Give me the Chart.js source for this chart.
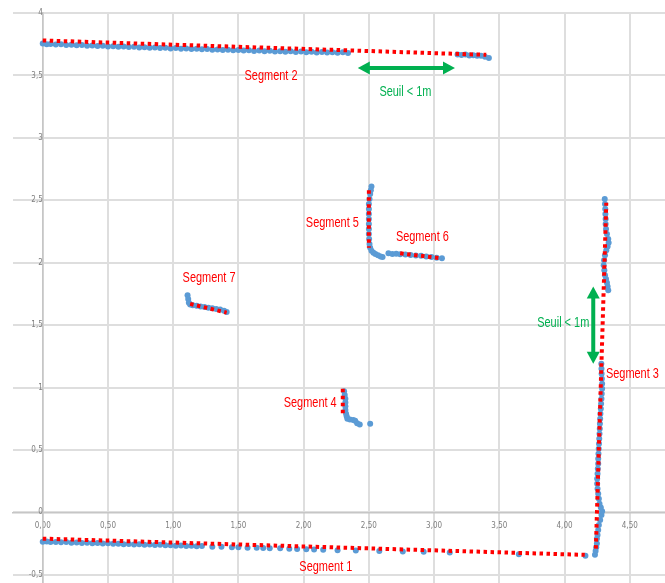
<!DOCTYPE html>
<html>
<head>
<meta charset="utf-8">
<script src="https://cdn.jsdelivr.net/npm/chart.js@4/dist/chart.umd.min.js"></script>
<style>
  html, body { margin: 0; padding: 0; background: #ffffff; overflow: hidden; }
  #wrap { width: 665px; height: 583px; overflow: hidden; }
</style>
</head>
<body>
<div id="wrap"><canvas id="scan" width="669" height="594"></canvas></div>
<script>
// Lidar scan points (x, y in metres), one list per wall piece
const scanSeg1 = [
  [0.00,-0.235],[0.03,-0.233],[0.06,-0.238],[0.10,-0.236],[0.14,-0.240],[0.18,-0.238],
  [0.22,-0.243],[0.26,-0.241],[0.30,-0.245],[0.34,-0.243],[0.38,-0.248],[0.42,-0.246],
  [0.46,-0.250],[0.50,-0.248],[0.54,-0.252],[0.58,-0.251],[0.62,-0.255],[0.66,-0.253],
  [0.70,-0.257],[0.74,-0.256],[0.78,-0.259],[0.82,-0.258],[0.86,-0.262],[0.90,-0.260],
  [0.94,-0.264],[0.98,-0.263],[1.02,-0.267],[1.06,-0.265],[1.10,-0.269],[1.14,-0.268],
  [1.18,-0.272],[1.22,-0.270],[1.30,-0.276],[1.37,-0.275],[1.45,-0.280],[1.50,-0.279],
  [1.57,-0.283],[1.64,-0.284],[1.69,-0.286],[1.74,-0.288],[1.82,-0.287],[1.89,-0.292],
  [1.95,-0.293],[2.02,-0.296],[2.08,-0.297],[2.15,-0.300],[2.26,-0.303],[2.40,-0.305],
  [2.58,-0.310],[2.76,-0.313],[2.92,-0.316],[3.12,-0.322],[3.65,-0.335],[4.16,-0.348]
];
const scanSeg2a = [
  [0.00,3.755],[0.03,3.750],[0.06,3.752],[0.10,3.748],[0.14,3.749],[0.18,3.744],[0.22,3.746],
  [0.26,3.741],[0.30,3.743],[0.34,3.738],[0.38,3.740],[0.42,3.735],[0.46,3.737],[0.50,3.732],
  [0.54,3.734],[0.58,3.729],[0.62,3.731],[0.66,3.727],[0.70,3.729],[0.74,3.724],[0.78,3.726],
  [0.82,3.722],[0.86,3.724],[0.90,3.719],[0.94,3.721],[0.98,3.716],[1.02,3.719],[1.06,3.714],
  [1.10,3.716],[1.14,3.711],[1.18,3.713],[1.22,3.709],[1.26,3.711],[1.30,3.706],[1.34,3.708],
  [1.38,3.703],[1.42,3.706],[1.46,3.701],[1.50,3.703],[1.54,3.699],[1.58,3.701],[1.62,3.696],
  [1.66,3.699],[1.70,3.694],[1.74,3.697],[1.78,3.692],[1.82,3.694],[1.86,3.690],[1.90,3.693],
  [1.94,3.688],[1.98,3.691],[2.02,3.686],[2.06,3.689],[2.10,3.684],[2.14,3.688],[2.18,3.683],
  [2.22,3.686],[2.26,3.682],[2.30,3.685],[2.34,3.680]
];
const scanSeg2b = [
  [3.18,3.668],[3.21,3.664],[3.24,3.667],[3.27,3.660],[3.30,3.662],[3.33,3.657],
  [3.36,3.658],[3.39,3.650],[3.42,3.640]
];
const scanSeg3a = [
  [4.233,-0.34],[4.238,-0.31],[4.243,-0.28],[4.248,-0.25],[4.248,-0.21],[4.253,-0.18],
  [4.258,-0.14],[4.263,-0.10],[4.273,-0.06],[4.283,-0.02],[4.288,0.01],[4.278,0.04],
  [4.268,0.07],[4.263,0.11],[4.258,0.15],[4.253,0.19],[4.250,0.23],[4.250,0.27],
  [4.253,0.31],[4.255,0.35],[4.258,0.39],[4.258,0.43],[4.260,0.47],[4.262,0.51],
  [4.264,0.55],[4.266,0.59],[4.268,0.63],[4.270,0.67],[4.271,0.71],[4.273,0.75],
  [4.275,0.79],[4.278,0.83],[4.280,0.87],[4.283,0.91],[4.285,0.95],[4.288,0.99],
  [4.288,1.03],[4.286,1.07],[4.284,1.11],[4.283,1.15],[4.282,1.19]
];
const scanSeg3b = [
  [4.335,1.78],[4.330,1.81],[4.325,1.84],[4.318,1.87],[4.310,1.90],[4.305,1.94],
  [4.300,1.98],[4.303,2.02],[4.310,2.06],[4.320,2.10],[4.330,2.13],[4.338,2.16],
  [4.335,2.19],[4.325,2.23],[4.318,2.27],[4.315,2.31],[4.315,2.35],[4.313,2.39],
  [4.312,2.43],[4.310,2.47],[4.308,2.51]
];
const scanSeg4 = [
  [2.31,0.97],[2.315,0.94],[2.32,0.91],[2.32,0.88],[2.32,0.85],[2.32,0.82],[2.325,0.79],
  [2.33,0.77],[2.335,0.75],[2.355,0.745],[2.38,0.74],[2.395,0.735],[2.41,0.715],
  [2.43,0.705],[2.51,0.71]
];
const scanSeg5 = [
  [2.52,2.61],[2.515,2.58],[2.51,2.55],[2.505,2.51],[2.50,2.47],[2.50,2.43],[2.50,2.39],
  [2.50,2.35],[2.50,2.31],[2.50,2.27],[2.50,2.23],[2.502,2.19],[2.505,2.15],[2.51,2.12],
  [2.52,2.095],[2.535,2.08],[2.55,2.07],[2.57,2.06],[2.59,2.05],[2.605,2.045]
];
const scanSeg6 = [
  [2.65,2.075],[2.68,2.07],[2.71,2.072],[2.74,2.068],[2.78,2.066],[2.82,2.062],
  [2.86,2.058],[2.90,2.055],[2.94,2.05],[2.98,2.046],[3.02,2.04],[3.06,2.035]
];
const scanSeg7 = [
  [1.11,1.74],[1.115,1.71],[1.12,1.68],[1.13,1.665],[1.15,1.66],[1.18,1.655],[1.21,1.65],
  [1.24,1.645],[1.27,1.64],[1.30,1.635],[1.33,1.63],[1.36,1.625],[1.39,1.615],[1.41,1.605]
];

// Fitted segments: start and end points
const segment1 = [[0.00,-0.21],[4.155,-0.34]];
const segment2 = [[0.00,3.78],[3.40,3.665]];
const segment3 = [[4.24,-0.29],[4.32,2.48]];
const segment4 = [[2.30,0.99],[2.30,0.79]];
const segment5 = [[2.50,2.58],[2.50,2.12]];
const segment6 = [[2.74,2.075],[3.06,2.035]];
const segment7 = [[1.13,1.67],[1.41,1.60]];

// Gap threshold arrows (end points in metres)
const gapArrowTop = [[2.415,3.56],[3.16,3.56]];
const gapArrowRight = [[4.22,1.81],[4.22,1.19]];

// Text notes placed in data space
const notes = [
  { text: 'Segment 1', at: [2.17,-0.44], color: '#ff0000' },
  { text: 'Segment 2', at: [1.75,3.50], color: '#ff0000' },
  { text: 'Segment 3', at: [4.52,1.11], color: '#ff0000' },
  { text: 'Segment 4', at: [2.05,0.88], color: '#ff0000' },
  { text: 'Segment 5', at: [2.22,2.32], color: '#ff0000' },
  { text: 'Segment 6', at: [2.91,2.21], color: '#ff0000' },
  { text: 'Segment 7', at: [1.275,1.88], color: '#ff0000' },
  { text: 'Seuil < 1m', at: [2.78,3.37], color: '#00b050' },
  { text: 'Seuil < 1m', at: [3.99,1.52], color: '#00b050' }
];

const toXY = arr => arr.map(p => ({ x: p[0], y: p[1] }));
const TICK_FONT = '"Liberation Sans Narrow", "DejaVu Sans Condensed", sans-serif';
const NOTE_FONT = '"Liberation Sans", Arial, sans-serif';

const scanPoints = [].concat(scanSeg1, scanSeg2a, scanSeg2b, scanSeg3a, scanSeg3b,
                             scanSeg4, scanSeg5, scanSeg6, scanSeg7);
const segments = [segment1, segment2, segment3, segment4, segment5, segment6, segment7];

const segmentSets = segments.map(s => ({
  type: 'line',
  data: toXY(s),
  borderColor: '#ff0000',
  borderWidth: 4,
  borderDash: [3.5, 3.5],
  borderCapStyle: 'butt',
  pointRadius: 0,
  fill: false,
  order: 0
}));

function drawArrow(ctx, x1, y1, x2, y2, color) {
  const ang = Math.atan2(y2 - y1, x2 - x1);
  const head = 12, half = 6.5;
  const ux = Math.cos(ang), uy = Math.sin(ang);
  ctx.save();
  ctx.strokeStyle = color;
  ctx.fillStyle = color;
  ctx.lineWidth = 4;
  ctx.beginPath();
  ctx.moveTo(x1 + ux * head * 0.8, y1 + uy * head * 0.8);
  ctx.lineTo(x2 - ux * head * 0.8, y2 - uy * head * 0.8);
  ctx.stroke();
  const tip = (tx, ty, dx, dy) => {
    ctx.beginPath();
    ctx.moveTo(tx, ty);
    ctx.lineTo(tx - dx * head - dy * half, ty - dy * head + dx * half);
    ctx.lineTo(tx - dx * head + dy * half, ty - dy * head - dx * half);
    ctx.closePath();
    ctx.fill();
  };
  tip(x2, y2, ux, uy);
  tip(x1, y1, -ux, -uy);
  ctx.restore();
}

const overlay = {
  id: 'overlay',
  afterDatasetsDraw(chart) {
    const { ctx } = chart;
    const xs = chart.scales.x, ys = chart.scales.y;
    [gapArrowTop, gapArrowRight].forEach(a => {
      drawArrow(ctx, xs.getPixelForValue(a[0][0]), ys.getPixelForValue(a[0][1]),
                xs.getPixelForValue(a[1][0]), ys.getPixelForValue(a[1][1]), '#00b050');
    });
    ctx.save();
    ctx.font = '15px ' + NOTE_FONT;
    ctx.textAlign = 'center';
    ctx.textBaseline = 'middle';
    notes.forEach(n => {
      ctx.save();
      ctx.fillStyle = n.color;
      ctx.translate(xs.getPixelForValue(n.at[0]), ys.getPixelForValue(n.at[1]));
      ctx.scale(0.73, 1);   // narrow face for the notes
      ctx.fillText(n.text, 0, 0);
      ctx.restore();
    });
    ctx.restore();
  }
};

const fmtX = v => (Math.round(v * 100) / 100).toFixed(2).replace('.', ',');
const fmtY = v => String(Math.round(v * 100) / 100).replace('.', ',');

new Chart(document.getElementById('scan'), {
  type: 'scatter',
  data: {
    datasets: segmentSets.concat([{
      type: 'scatter',
      data: toXY(scanPoints),
      backgroundColor: '#5b9bd5',
      borderWidth: 0,
      pointRadius: 3,
      order: 1
    }])
  },
  options: {
    responsive: false,
    animation: false,
    devicePixelRatio: 1,
    layout: { padding: { left: 13, top: 13, right: 0, bottom: 0 } },
    plugins: { legend: { display: false }, tooltip: { enabled: false } },
    scales: {
      x: {
        type: 'linear',
        min: -0.228, max: 4.77,
        position: { y: 0 },
        grid: { color: '#dedede', lineWidth: 2, drawTicks: false },
        border: { color: '#c6c6c6', width: 1.5 },
        ticks: {
          stepSize: 0.5, includeBounds: false, padding: 9,
          color: '#7f7f7f', font: { family: TICK_FONT, size: 8 },
          maxRotation: 0, autoSkip: false,
          callback: fmtX
        }
      },
      y: {
        type: 'linear',
        min: -0.575, max: 4,
        position: { x: 0 },
        grid: { color: '#dedede', lineWidth: 2, drawTicks: false },
        border: { color: '#c6c6c6', width: 1.5 },
        ticks: {
          stepSize: 0.5, includeBounds: false, padding: 5,
          color: '#7f7f7f', font: { family: TICK_FONT, size: 8 },
          autoSkip: false,
          callback: fmtY
        }
      }
    }
  },
  plugins: [overlay]
});
</script>
</body>
</html>
